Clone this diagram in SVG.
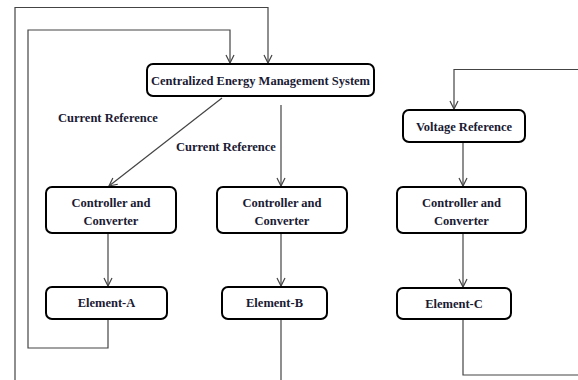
<svg xmlns="http://www.w3.org/2000/svg" width="578" height="380" viewBox="0 0 578 380">
<style>
.box{fill:#fff;stroke:#000;stroke-width:2}
.t{font-family:"Liberation Serif","Times New Roman",serif;font-weight:bold;font-size:12.5px;fill:#1a1a33;text-anchor:middle}
.lbl{font-family:"Liberation Serif","Times New Roman",serif;font-weight:bold;font-size:12.5px;fill:#1a1a33}
.c{fill:none;stroke:#444;stroke-width:1.2}
</style>
<defs>
<marker id="a" viewBox="0 0 10 10" refX="9" refY="5" markerWidth="10" markerHeight="10" markerUnits="userSpaceOnUse" orient="auto">
<path d="M1,1 L9,5 L1,9" fill="none" stroke="#444" stroke-width="1.2"/>
</marker>
</defs>
<rect width="578" height="380" fill="#fff"/>
<g id="connectors">
<polyline class="c" points="15,380 15,7.5 268,7.5 268,63" marker-end="url(#a)"/>
<polyline class="c" points="108,320 108,348 28,348 28,30 230,30 230,63" marker-end="url(#a)"/>
<line class="c" x1="222" y1="98" x2="109" y2="186" marker-end="url(#a)"/>
<line class="c" x1="281" y1="105" x2="281" y2="186" marker-end="url(#a)"/>
<line class="c" x1="108" y1="233" x2="108" y2="286" marker-end="url(#a)"/>
<line class="c" x1="281" y1="233" x2="281" y2="286" marker-end="url(#a)"/>
<line class="c" x1="463" y1="142" x2="463" y2="186" marker-end="url(#a)"/>
<line class="c" x1="463" y1="233" x2="463" y2="287" marker-end="url(#a)"/>
<polyline class="c" points="578,69.5 454,69.5 454,109" marker-end="url(#a)"/>
<line class="c" x1="281" y1="320" x2="281" y2="380"/>
<polyline class="c" points="463,319 463,375 578,375"/>
<text class="lbl" x="58" y="122">Current Reference</text>
<text class="lbl" x="176" y="151">Current Reference</text>
</g>
<g id="cems">
<rect class="box" x="147" y="64" width="227" height="32" rx="6"/>
<text class="t" x="260.5" y="84.5">Centralized Energy Management System</text>
</g>
<g id="voltage-ref">
<rect class="box" x="403" y="110" width="122" height="32" rx="6"/>
<text class="t" x="464" y="130.5">Voltage Reference</text>
</g>
<g id="ctrl-a">
<rect class="box" x="46" y="187" width="130" height="46" rx="6"/>
<text class="t" x="111" y="206.5">Controller and</text>
<text class="t" x="111" y="224.5">Converter</text>
</g>
<g id="ctrl-b">
<rect class="box" x="217" y="187" width="130" height="46" rx="6"/>
<text class="t" x="282" y="206.5">Controller and</text>
<text class="t" x="282" y="224.5">Converter</text>
</g>
<g id="ctrl-c">
<rect class="box" x="397" y="187" width="129" height="46" rx="6"/>
<text class="t" x="461.5" y="206.5">Controller and</text>
<text class="t" x="461.5" y="224.5">Converter</text>
</g>
<g id="elem-a">
<rect class="box" x="46" y="287" width="121" height="32" rx="6"/>
<text class="t" x="106.5" y="307">Element-A</text>
</g>
<g id="elem-b">
<rect class="box" x="222" y="287" width="105" height="32" rx="6"/>
<text class="t" x="274.5" y="307">Element-B</text>
</g>
<g id="elem-c">
<rect class="box" x="397" y="288" width="114" height="31" rx="6"/>
<text class="t" x="454" y="307.5">Element-C</text>
</g>
</svg>
